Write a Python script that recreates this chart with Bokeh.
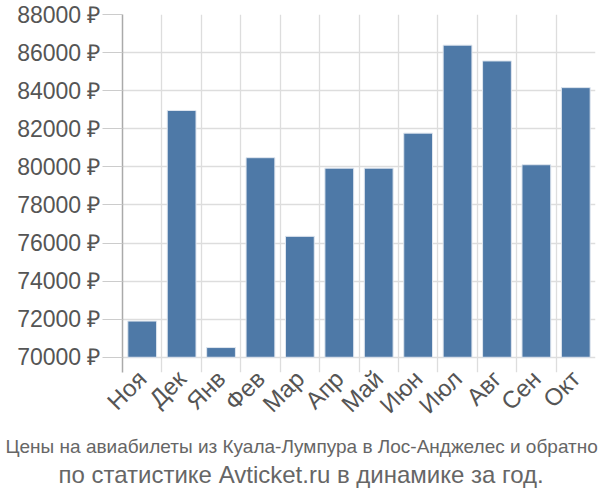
import math
from bokeh.plotting import figure
from bokeh.models import FixedTicker, Range1d, Title, ColumnDataSource
from bokeh.embed import file_html
from bokeh.resources import INLINE

months = ["Ноя", "Дек", "Янв", "Фев", "Мар", "Апр", "Май", "Июн", "Июл", "Авг", "Сен", "Окт"]
prices = [71900, 82960, 70510, 80480, 76350, 79930, 79930, 81770, 86390, 85560, 80110, 84160]
y_ticks = [70000, 72000, 74000, 76000, 78000, 80000, 82000, 84000, 86000, 88000]
title_lines = ["Цены на авиабилеты из Куала-Лумпура в Лос-Анджелес и обратно",
               "по статистике Avticket.ru в динамике за год."]

FRAME_LEFT = 122
FRAME_BOTTOM = 372
H = 500

xs = [i + 0.5 for i in range(len(months))]
src = ColumnDataSource(dict(x=xs, top=prices, bottom=[70000] * len(prices)))

p = figure(width=600, height=H, output_backend="svg", toolbar_location=None,
           x_range=Range1d(0, len(months)), y_range=Range1d(69200, 88000),
           min_border_left=FRAME_LEFT, min_border_right=5, min_border_top=14,
           min_border_bottom=H - FRAME_BOTTOM)
p.outline_line_color = None

p.vbar(x="x", top="top", bottom="bottom", width=0.73, source=src,
       fill_color="#4e79a7", line_color="#dfe6ef", line_width=1)

FONT = "Liberation Sans"
# x axis
p.xaxis.ticker = FixedTicker(ticks=xs)
p.xaxis.major_label_overrides = {x: m for x, m in zip(xs, months)}
p.xaxis.major_label_orientation = math.pi / 4
p.xaxis.major_tick_out = 0
p.xaxis.major_tick_in = 0
p.xaxis.minor_tick_out = 0
p.xaxis.minor_tick_in = 0
p.xaxis.axis_line_color = None
p.xaxis.major_label_text_font = FONT
p.xaxis.major_label_text_font_size = "24px"
p.xaxis.major_label_text_color = "#555555"
p.xaxis.major_label_standoff = 2

# y axis
p.yaxis.ticker = FixedTicker(ticks=y_ticks)
p.yaxis.major_label_overrides = {t: f"{t} ₽" for t in y_ticks}
p.yaxis.major_tick_out = 20
p.yaxis.major_tick_in = 0
p.yaxis.minor_tick_out = 0
p.yaxis.minor_tick_in = 0
p.yaxis.major_tick_line_color = "#cccccc"
p.yaxis.axis_line_color = "#aaaaaa"
p.yaxis.axis_line_width = 1.5
p.yaxis.major_label_text_font = FONT
p.yaxis.major_label_text_font_size = "23px"
p.yaxis.major_label_text_color = "#555555"
p.yaxis.major_label_standoff = 2

# grids
p.xgrid.ticker = FixedTicker(ticks=list(range(len(months) + 1)))
p.xgrid.grid_line_color = "#dddddd"
p.xgrid.grid_line_width = 1.3
p.ygrid.grid_line_color = "#dddddd"
p.ygrid.grid_line_width = 1.3

# titles below: first added sits closest to the plot
for line, size, off, so in [(title_lines[0], "19px", -117, 4), (title_lines[1], "24px", -64, 0)]:
    p.add_layout(Title(text=line, align="left", offset=off, standoff=so,
                       text_font=FONT, text_font_size=size, text_color="#666666",
                       text_font_style="normal"), "below")

open("out.html", "w").write(file_html(p, INLINE))
